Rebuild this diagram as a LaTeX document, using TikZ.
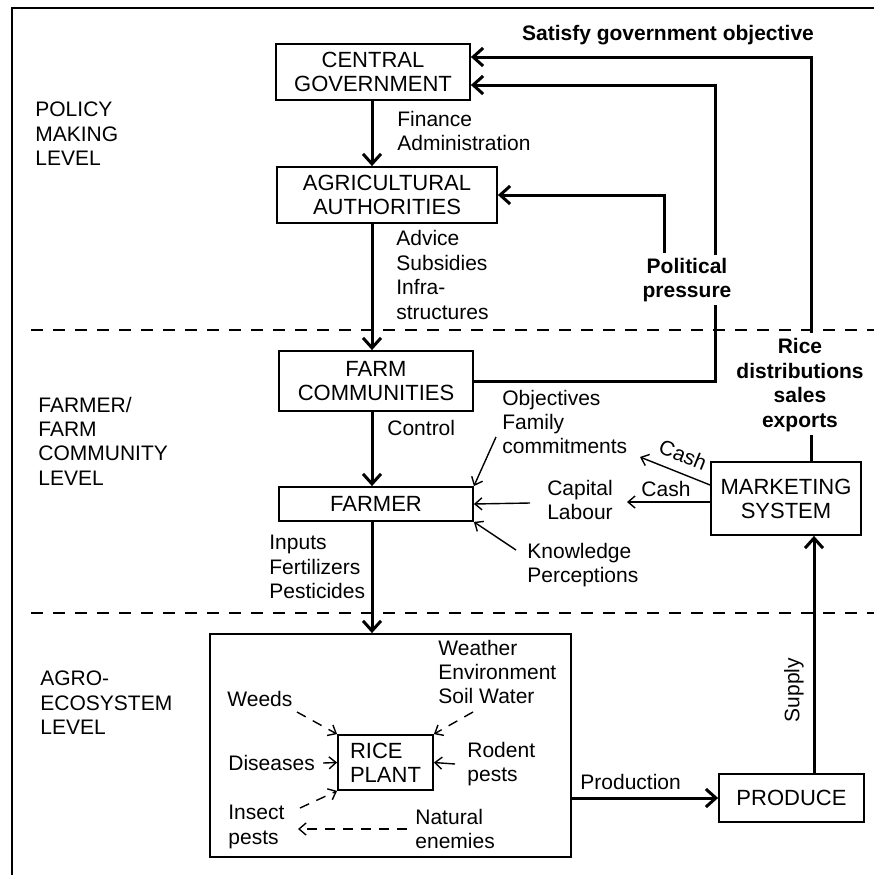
\documentclass[tikz,border=0pt]{standalone}
\usepackage{fontspec}
\setmainfont{Liberation Sans}
\usepackage{tikz}
\usetikzlibrary{arrows.meta}

\begin{document}
\begin{tikzpicture}
        [x=0.5pt,y=-0.5pt,
        every node/.style={font=\fontsize{10.5}{12.2}\selectfont,inner sep=0pt,align=left},
        heavy/.style={font=\bfseries\fontsize{10.5}{12.2}\selectfont},
        box/.style={draw,line width=0.9pt,align=center,font=\fontsize{11}{12}\selectfont},
        main/.style={line width=1.5pt,-{Straight Barb[length=5pt,width=9pt]}},
        feed/.style={line width=1.5pt},
        minor/.style={line width=0.7pt,-{Straight Barb[length=3.5pt,width=6pt]}},
        dasharrow/.style={minor,dash pattern=on 5pt off 4pt},
        outerline/.style={line width=0.9pt},
        levelline/.style={line width=0.8pt,dash pattern=on 6pt off 5pt}]
        \useasboundingbox (0,0) rectangle (874,875);

        \node[box,minimum width=97pt,minimum height=28pt] (cg) at (373,72) {CENTRAL\\GOVERNMENT};
        \node[box,minimum width=110pt,minimum height=28pt] (aa) at (387,195) {AGRICULTURAL\\AUTHORITIES};
        \node[box,minimum width=97pt,minimum height=30pt] (fc) at (376,381) {FARM\\COMMUNITIES};
        \node[box,minimum width=97pt,minimum height=17pt] (farmer) at (376,504) {FARMER};
        \node[box,minimum width=75pt,minimum height=36.5pt] (ms) at (786,498.5) {MARKETING\\SYSTEM};
        \node[box,minimum width=180.5pt,minimum height=111.5pt] (eco) at (390.5,745.5) {};
        \node[box,align=left,minimum width=47.5pt,minimum height=27.5pt] (rice) at (385.5,762.5) {RICE\\PLANT};
        \node[box,minimum width=72.5pt,minimum height=24pt] (prod) at (791.5,798) {PRODUCE};

        \node[anchor=west] (policy) at (35,134) {POLICY\\MAKING\\LEVEL};
        \node[anchor=west] (farmlvl) at (38,441) {FARMER/\\FARM\\COMMUNITY\\LEVEL};
        \node[anchor=west] (agrolvl) at (40,703) {AGRO-\\ECOSYSTEM\\LEVEL};

        \node[heavy] (satisfy) at (668,35) {Satisfy government objective};
        \node[anchor=west] (fin) at (397,131) {Finance\\Administration};
        \node[anchor=west] (adv) at (396,275) {Advice\\Subsidies\\Infra-\\structures};
        \node[heavy,align=center] (pol) at (687,280) {Political\\pressure};
        \node[heavy,align=center] (rd) at (800,385) {Rice\\distributions\\sales\\exports};
        \node[anchor=west] (ctrl) at (387,428) {Control};
        \node[anchor=west] (obj) at (502,422) {Objectives\\Family\\commitments};
        \node[align=center] (cap) at (580,500) {Capital\\Labour};
        \node[anchor=west] (know) at (527,565) {Knowledge\\Perceptions};
        \node (cash1) at (666,489) {Cash};
        \node[rotate=-22] (cash2) at (683,455) {Cash};
        \node[anchor=west] (inputs) at (269,567) {Inputs\\Fertilizers\\Pesticides};
        \node[anchor=west] (weather) at (438,672) {Weather\\Environment\\Soil Water};
        \node[anchor=west] (weeds) at (227,699) {Weeds};
        \node[anchor=west] (dis) at (228,763) {Diseases};
        \node[anchor=west] (rodent) at (467,764) {Rodent\\pests};
        \node[anchor=west] (insect) at (228,827) {Insect\\pests};
        \node[anchor=west] (natural) at (415,829) {Natural\\enemies};
        \node[anchor=west] (production) at (580,782) {Production};
        \node[rotate=90] (supply) at (794,690) {Supply};

        \coordinate (spine) at (372,0);
        \coordinate (pp) at (715,305);
        \coordinate (ppa) at (715,255);
        \coordinate (ppb) at (664,253);
        \coordinate (rdtop) at (811,333);
        \coordinate (rdbot) at (811,435);
        \coordinate (sup) at (814,650);
        \coordinate (objend) at (496,437);
        \coordinate (capend) at (530,503);
        \coordinate (knowend) at (516,550);
        \coordinate (cashA) at (627,502);
        \coordinate (cashB) at (640,457);
        \coordinate (weedend) at (297,712);
        \coordinate (soilend) at (473,712);
        \coordinate (insectend) at (300,808);
        \coordinate (natend) at (298,829);

        \draw[outerline] (12,875) -- (12,8) -- (874,8);
        \draw[levelline] (31,330) -- (874,330);
        \draw[levelline] (31,613) -- (874,613);

        \foreach \from/\to in {cg/aa, aa/fc, fc/farmer, farmer/eco}
            \draw[main] (\from.south -| spine) -- (\to.north -| spine);

        \draw[feed] (fc.east) -| (pp);
        \draw[main] (ppa) |- ([yshift=-6.5pt]cg.east);
        \draw[main] (ppb) |- (aa.east);
        \draw[feed] (ms.north -| rdbot) -- (rdbot);
        \draw[main] (rdtop) |- ([yshift=7.5pt]cg.east);
        \draw[main] (prod.north -| sup) -- (ms.south -| sup);
        \draw[main] (prod.west -| eco.east) -- (prod.west);

        \draw[minor] (objend) -- (farmer.north east);
        \draw[minor] (capend) -- (farmer.east);
        \draw[minor] (knowend) -- (farmer.south east);
        \draw[minor] (ms.west |- cashA) -- (cashA);
        \draw[minor] ([yshift=6.75pt]ms.west) -- (cashB);

        \draw[dasharrow] (weedend) -- (rice.north west);
        \draw[dasharrow] (soilend) -- (rice.north east);
        \draw[minor] ([xshift=4pt]dis.east) -- (rice.west);
        \draw[minor] ([xshift=-6pt]rodent.west) -- (rice.east);
        \draw[dasharrow] (insectend) -- (rice.south west);
        \draw[dasharrow] ([xshift=-4pt]natural.west) -- (natend);

      \end{tikzpicture}
\end{document}
